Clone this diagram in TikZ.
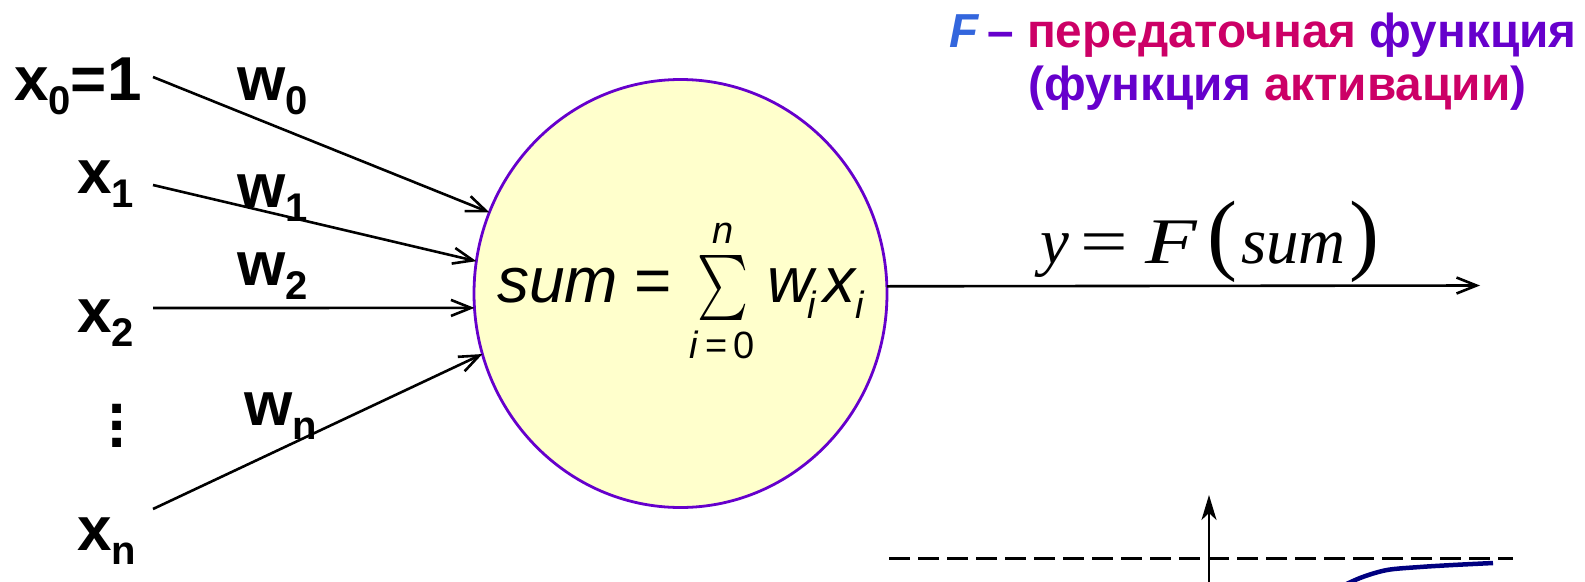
\documentclass[tikz,border=0pt]{standalone}
\usepackage{fontspec}
\setmainfont{Liberation Sans}
\newfontfamily\serifrm{Liberation Serif}
\usepackage{graphicx}
\usetikzlibrary{arrows.meta,shapes.geometric}
\definecolor{fblue}{RGB}{51,102,221}
\definecolor{purp}{RGB}{102,0,204}
\definecolor{mag}{RGB}{204,0,102}
\definecolor{lyellow}{RGB}{255,255,204}
\definecolor{navyc}{RGB}{0,0,128}
\newcommand{\lsub}[1]{\raisebox{-14pt}{\fontsize{40}{40}\selectfont #1}}
\newcommand{\isub}[1]{\raisebox{-16pt}{\fontsize{38}{38}\selectfont #1}}
\tikzset{
  lbl/.style={font=\fontsize{62}{62}\selectfont\bfseries, inner sep=0, anchor=base west},
  inarrow/.style={line width=2.6pt, -{Straight Barb[length=20pt,width=16pt]}},
  frm/.style={font=\fontsize{64}{64}\selectfont, inner sep=0},
  rfrm/.style={font=\fontsize{65}{65}\selectfont\serifrm, inner sep=0, anchor=base west},
  bigp/.style={font=\fontsize{90}{90}\selectfont\serifrm, inner sep=0, anchor=base west},
  ttl/.style={font=\fontsize{47.7}{47.7}\selectfont\bfseries, inner sep=0, anchor=base west},
}
\begin{document}
\begin{tikzpicture}[x=1pt,y=-1pt]
\useasboundingbox (0,0) rectangle (1585,581);
% neuron
\node[ellipse, draw=purp, fill=lyellow, line width=2.8pt, minimum width=413pt,
      minimum height=428pt, inner sep=0, outer sep=0] (neuron) at (680.5,293.5) {};
% input labels
\node[lbl] (x0) at (14,100) {x\lsub{0}=1};
\node[lbl] (x1) at (77,193) {x\lsub{1}};
\node[lbl] (x2) at (77,332) {x\lsub{2}};
\node[lbl] (xn) at (77,550) {x\lsub{n}};
\node[font=\fontsize{62}{62}\selectfont\bfseries, inner sep=0, anchor=base] (dots) at (117,447.5)
  {\vbox{\baselineskip=17pt\hbox{.}\hbox{.}\hbox{.}}};
% weights
\node[lbl] (w0) at (237,100) {w\lsub{0}};
\node[lbl] (w1) at (237,207) {w\lsub{1}};
\node[lbl] (w2) at (237,285) {w\lsub{2}};
\node[lbl] (wn) at (244,425) {w\lsub{n}};
% arrow start points
\coordinate (s0) at (153,77);
\coordinate (s1) at (153,185);
\coordinate (s2) at (153,308);
\coordinate (sn) at (153,509);
\draw[inarrow] (s0) -- (neuron.157.8);
\draw[inarrow] (s1) -- (neuron.171);
\draw[inarrow] (s2) -- (neuron.184);
\draw[inarrow] (sn) -- (neuron.197.6);
% sum formula
\node[frm, anchor=base west] (fsum) at (497,302) {\itshape sum};
\node[frm, anchor=base] (feq) at (653.5,302) {=};
\node[inner sep=0] (fsig) at (722.5,287.5) {\resizebox*{51pt}{65pt}{$\textstyle\sum$}};
\node[font=\fontsize{38}{38}\selectfont\itshape, inner sep=0, anchor=base] (fn) at (723,243) {n};
\node[font=\fontsize{38}{38}\selectfont, inner sep=0, anchor=base] (fi0) at (722.5,358) {\textit{i}\,=\,0};
\node[frm, anchor=base west] (fwx) at (767,302) {\itshape w\kern-6pt\isub{i}\kern8pt x\isub{i}};
% output
\coordinate (yend) at (1480,285.5);
\draw[inarrow] (neuron.2.1) -- (yend);
\node[rfrm] (ry) at (1040,263) {\itshape y};
\node[rfrm, anchor=base] (req) at (1104.5,263) {\scalebox{1.3}[1]{=}};
\node[rfrm] (rF) at (1145,263) {\scalebox{1.3}[1]{\itshape F}};
\node[bigp] (rlp) at (1207,263) {(};
\node[rfrm] (rsum) at (1241,263) {\itshape sum};
\node[bigp] (rrp) at (1349,263) {)};
% title
\node[ttl] (t1) at (949,47) {\textcolor{fblue}{\textit{F}}\hspace{8pt}\textcolor{purp}{–} \textcolor{mag}{передаточная} \textcolor{purp}{функция}};
\node[ttl] (t2) at (1028,100) {\textcolor{purp}{(функция} \textcolor{mag}{активации}\textcolor{purp}{)}};
% activation graph fragment
\coordinate (d1) at (889,558);
\coordinate (d2) at (1513,558);
\draw[line width=3pt, dash pattern=on 21pt off 8pt] (d1) -- (d2);
\coordinate (axb) at (1209,595);
\coordinate (axt) at (1209,495);
\draw[line width=2.6pt, -{Stealth[length=25pt,width=15pt,inset=7pt]}] (axb) -- (axt);
\draw[navyc, line width=4.5pt] plot[smooth] coordinates {(1330,592) (1360,578) (1387,570) (1420,567) (1453,565) (1493,563)};
\end{tikzpicture}
\end{document}
